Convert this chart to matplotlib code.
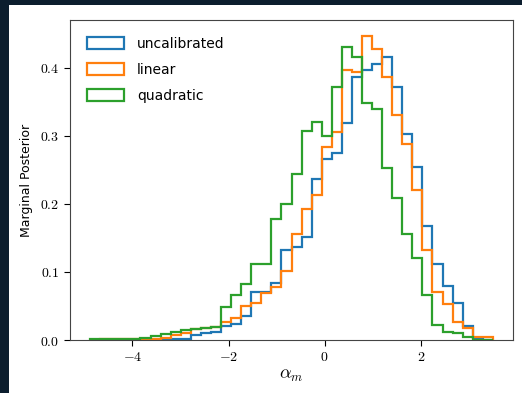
import numpy as np
import matplotlib
matplotlib.use("Agg")
import matplotlib.pyplot as plt
from matplotlib.patches import Rectangle
from matplotlib.ticker import FuncFormatter

plt.rcParams['mathtext.fontset'] = 'cm'
plt.rcParams['font.family'] = ['DejaVu Sans']

# Common bin edges (40 bins)
bin_lo, bin_hi, n_bins = -4.88, 3.50, 40

uncalibrated = [0, 0, 0, 0, 0, 0, 0, 0, 0.001, 0.002,
                0.007, 0.010, 0.012, 0.021, 0.024, 0.035, 0.071, 0.070, 0.084, 0.132,
                0.137, 0.152, 0.237, 0.266, 0.274, 0.319, 0.387, 0.396, 0.405, 0.415,
                0.371, 0.302, 0.254, 0.167, 0.111, 0.079, 0.055, 0.020, 0.003, 0.0]
linear = [0.0, 0.001, 0.001, 0.001, 0.001, 0.001, 0.002, 0.003, 0.007, 0.011,
          0.016, 0.017, 0.019, 0.027, 0.032, 0.050, 0.054, 0.069, 0.078, 0.101,
          0.155, 0.193, 0.213, 0.284, 0.305, 0.396, 0.393, 0.447, 0.428, 0.386,
          0.331, 0.288, 0.221, 0.132, 0.071, 0.053, 0.027, 0.018, 0.004, 0.004]
quadratic = [0.002, 0.001, 0.001, 0.001, 0.002, 0.003, 0.006, 0.009, 0.012, 0.014,
             0.016, 0.017, 0.019, 0.049, 0.066, 0.082, 0.112, 0.111, 0.178, 0.200,
             0.244, 0.307, 0.320, 0.299, 0.372, 0.430, 0.416, 0.348, 0.339, 0.252,
             0.209, 0.156, 0.120, 0.066, 0.022, 0.012, 0.010, 0.004, 0.0, 0.0]
labels = ["uncalibrated", "linear", "quadratic"]
xticks = [-4, -2, 0, 2]
yticks = [0.0, 0.1, 0.2, 0.3, 0.4]

edges = np.linspace(bin_lo, bin_hi, n_bins + 1)
centers = 0.5 * (edges[:-1] + edges[1:])

fig = plt.figure(figsize=(5.22, 3.93), dpi=100)
fig.patch.set_facecolor('#0c1e2e')
fig.patches.append(Rectangle((9 / 522, 0), 1, 1 - 5 / 393, transform=fig.transFigure,
                             facecolor='white', edgecolor='none', zorder=-10))
ax = fig.add_axes([70 / 522, 1 - 340 / 393, (513 - 70) / 522, (340 - 20) / 393])

for vals, lab, col in zip([uncalibrated, linear, quadratic], labels, ['C0', 'C1', 'C2']):
    ax.hist(centers, bins=edges, weights=vals, histtype='step', linewidth=1.6,
            color=col, label=lab)

ax.set_xticks(xticks)
ax.set_yticks(yticks)
ax.xaxis.set_major_formatter(FuncFormatter(lambda v, p: r'$%d$' % v))
ax.yaxis.set_major_formatter(FuncFormatter(lambda v, p: r'$%.1f$' % v))
ax.tick_params(labelsize=10, length=4)
for s in ax.spines.values():
    s.set_color('#444444')
ax.set_ylim(0, 0.47)
ax.set_xlabel(r'$\alpha_m$', fontsize=13, labelpad=1)
ax.set_ylabel('Marginal Posterior', fontsize=9, labelpad=5)
ax.legend(loc='upper left', frameon=False, fontsize=10, handlelength=2.66,
          handleheight=0.95, handletextpad=0.95, labelspacing=0.88,
          borderaxespad=0.6, borderpad=0.6)

fig.savefig('out.png', dpi=100, facecolor=fig.get_facecolor())
